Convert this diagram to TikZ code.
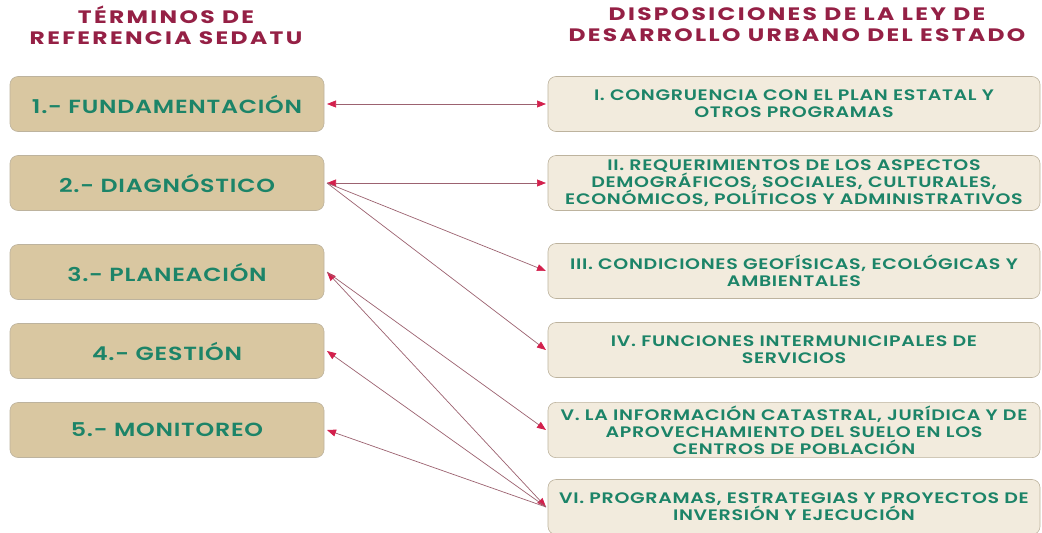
\documentclass[tikz,border=0pt]{standalone}
\usepackage{fontspec}
\setmainfont{Poppins}
\newfontfamily\hdrfont{Poppins}[LetterSpace=13,FakeStretch=1.3]
\newfontfamily\termfont{Poppins SemiBold}[LetterSpace=4,FakeStretch=1.25]
\newfontfamily\lawfont{Poppins SemiBold}[LetterSpace=4.5,FakeStretch=1.25]
\usetikzlibrary{arrows.meta}
\definecolor{guinda}{HTML}{952045}
\definecolor{txtgreen}{HTML}{1C8468}
\definecolor{tanfill}{HTML}{D9C7A1}
\definecolor{creamfill}{HTML}{F2EBDD}
\definecolor{boxline}{HTML}{BDB39E}
\definecolor{linkline}{HTML}{9C6270}
\definecolor{tipred}{HTML}{D3204C}
\tikzset{
  header/.style={text=guinda, align=center, font=\hdrfont\bfseries\fontsize{18}{21}\selectfont},
  termbox/.style={draw=boxline, line width=0.6pt, fill=tanfill, rounded corners=8pt,
    minimum width=314pt, minimum height=55pt, text=txtgreen, outer sep=3pt,
    font=\termfont\fontsize{19}{20}\selectfont},
  lawbox/.style={draw=boxline, line width=0.6pt, fill=creamfill, rounded corners=8pt,
    minimum width=492pt, minimum height=55pt, text=txtgreen, align=center, outer sep=2pt,
    font=\lawfont\fontsize{15.2}{17}\selectfont},
  link/.style={draw=linkline, line width=0.7pt,
    >={Triangle[length=9pt,width=7pt,color=tipred]}}
}
\begin{document}
\begin{tikzpicture}[x=1pt,y=-1pt]
\useasboundingbox (0,0) rectangle (1042,533);
\fill[white] (0,0) rectangle (1042,533);

\node[header] (h1) at (166,25) {TÉRMINOS DE\\REFERENCIA SEDATU};
\node[header] (h2) at (797,25) {DISPOSICIONES DE LA LEY DE\\DESARROLLO URBANO DEL ESTADO};

\node[termbox] (t1) at (167,104) {1.- FUNDAMENTACIÓN};
\node[termbox] (t2) at (167,183) {2.- DIAGNÓSTICO};
\node[termbox] (t3) at (167,272) {3.- PLANEACIÓN};
\node[termbox] (t4) at (167,351) {4.- GESTIÓN};
\node[termbox] (t5) at (167,430) {5.- MONITOREO};

\node[lawbox] (d1) at (794,104) {I. CONGRUENCIA CON EL PLAN ESTATAL Y\\OTROS PROGRAMAS};
\node[lawbox] (d2) at (794,183) {II. REQUERIMIENTOS DE LOS ASPECTOS\\DEMOGRÁFICOS, SOCIALES, CULTURALES,\\ECONÓMICOS, POLÍTICOS Y ADMINISTRATIVOS};
\node[lawbox] (d3) at (794,271) {III. CONDICIONES GEOFÍSICAS, ECOLÓGICAS Y\\AMBIENTALES};
\node[lawbox] (d4) at (794,350) {IV. FUNCIONES INTERMUNICIPALES DE\\SERVICIOS};
\node[lawbox] (d5) at (794,430) {V. LA INFORMACIÓN CATASTRAL, JURÍDICA Y DE\\APROVECHAMIENTO DEL SUELO EN LOS\\CENTROS DE POBLACIÓN};
\node[lawbox] (d6) at (794,507) {VI. PROGRAMAS, ESTRATEGIAS Y PROYECTOS DE\\INVERSIÓN Y EJECUCIÓN};

\draw[link,<->] (t1.east) -- (d1.west);
\draw[link,<->] (t2.east) -- (d2.west);
\draw[link,->] (t2.east) -- (d3.west);
\draw[link,->] (t2.east) -- (d4.west);
\draw[link,<->] (t3.east) -- (d6.west);
\draw[link,->] (t3.east) -- (d5.west);
\draw[link,->] (d6.west) -- (t4.east);
\draw[link,->] (d6.west) -- (t5.east);
\end{tikzpicture}
\end{document}
